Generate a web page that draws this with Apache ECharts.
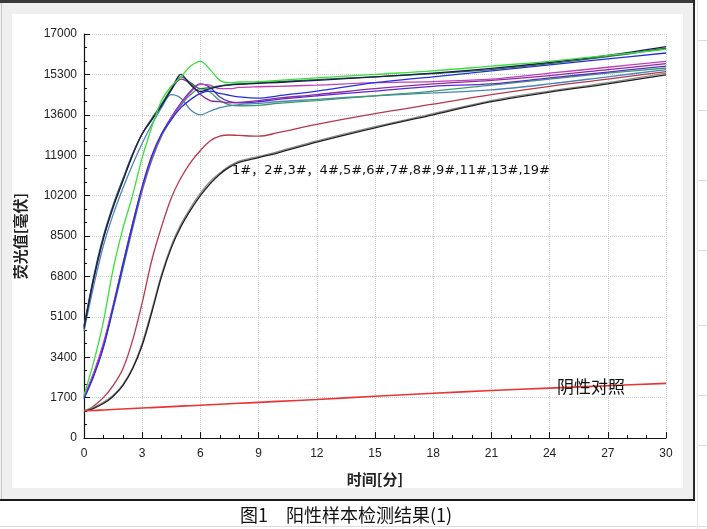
<!DOCTYPE html>
<html>
<head>
<meta charset="utf-8">
<script src="https://cdn.jsdelivr.net/npm/echarts@6/dist/echarts.min.js"></script>
<style>
html,body{margin:0;padding:0;background:#fff;}
#c{width:707px;height:529px;}
</style>
</head>
<body>
<div id="c"></div>
<script>
// ---- data ----
const times = [0,0.5,1,1.5,2,2.5,3,3.5,4,4.5,5,5.5,6,6.5,7,7.5,8,9,10,12,15,18,21,24,27,30];

const navy     = [4600,6700,8400,9700,10800,11900,12800,13400,14000,14650,15300,14850,14580,14700,14800,14850,14880,14920,14960,15050,15200,15350,15550,15800,16100,16470];
const darkGreen= [4700,6800,8500,9800,10900,11950,12800,13450,14050,14700,15200,14950,14700,14750,14820,14870,14900,14950,14990,15080,15200,15330,15500,15750,16050,16400];
const purpleA  = [4700,6700,8400,9750,10850,11900,12800,13400,14000,14650,15100,14900,14450,14200,14150,14100,14120,14200,14300,14450,14700,14900,15050,15250,15500,15750];
const steel    = [4500,6400,8100,9400,10500,11500,12400,13200,13900,14450,14300,13800,13600,13750,13900,13980,14030,14080,14150,14250,14400,14520,14650,14900,15200,15500];
const green    = [1800,3200,4900,7100,8800,10200,11800,13100,14200,14800,15200,15650,15850,15500,15050,14950,14980,15000,15050,15150,15300,15450,15650,15850,16100,16350];
const blue     = [1650,2600,3800,5500,7300,9000,10600,11900,12800,13400,13900,14250,14500,14600,14500,14420,14350,14300,14400,14600,14950,15200,15450,15700,15950,16200];
const violet   = [1700,2700,3900,5500,7200,8900,10500,11800,12800,13500,14100,14600,14900,14750,14350,14150,14100,14150,14250,14400,14600,14800,14900,15150,15400,15650];
const magenta  = [1750,2750,4000,5600,7300,9000,10500,11800,12750,13450,14050,14550,14880,14850,14700,14700,14750,14780,14800,14850,14950,15000,15100,15350,15600,15850];
const seaGreen = [1700,2650,3850,5400,7100,8800,10400,11700,12700,13400,14000,14450,14700,14550,14200,14020,13980,14000,14080,14200,14400,14600,14850,15100,15350,15570];
const darkRed  = [1100,1350,1700,2200,2900,4100,5700,7500,8900,10100,10950,11600,12100,12500,12700,12750,12730,12700,12850,13200,13650,14050,14450,14800,15100,15420];
const black    = [1100,1250,1450,1750,2200,2900,3900,5300,6800,8000,8900,9600,10200,10700,11100,11400,11600,11800,12000,12450,13050,13600,14150,14550,14900,15280];
const gray     = [1150,1300,1500,1800,2250,2950,4000,5400,6900,8100,9000,9700,10300,10800,11150,11450,11650,11850,12050,12500,13100,13650,14200,14600,14950,15350];
const negative = [1150,1160,1180,1200,1220,1240,1260,1280,1300,1320,1340,1360,1380,1400,1420,1440,1460,1500,1540,1620,1760,1880,2000,2100,2200,2300];

const yTicks = [0,1700,3400,5100,6800,8500,10200,11900,13600,15300,17000];
const xTicks = [0,3,6,9,12,15,18,21,24,27,30];

const seriesDefs = [
  ['6#', steel, '#4a86b4'],
  ['13#', seaGreen, '#3c9c6c'],
  ['19#', violet, '#5a2ad0'],
  ['11#', purpleA, '#8a2c9c'],
  ['8#', magenta, '#c040b8'],
  ['9#', blue, '#2430e0'],
  ['5#', darkGreen, '#2a6e48'],
  ['4#', navy, '#1c1c50'],
  ['7#', green, '#38e038'],
  ['3#', darkRed, '#b8384a'],
  ['2#', gray, '#8a8a8a'],
  ['1#', black, '#202020'],
  ['阴性对照', negative, '#e83434']
];

const pair = arr => times.map((t,i)=>[t,arr[i]]);

const chart = echarts.init(document.getElementById('c'), null, {renderer:'canvas'});
const tickFont = {color:'#222', fontSize:12, fontFamily:'Liberation Sans, Arial, sans-serif'};

chart.setOption({
  backgroundColor:'#ffffff',
  animation:false,
  graphic:[
    {type:'rect', z:-100, shape:{x:0,y:0,width:694,height:500}, style:{fill:'#efefef'}},
    {type:'rect', z:-99, shape:{x:12,y:14,width:671,height:474}, style:{fill:'#ffffff'}},
    {type:'rect', z:-98, shape:{x:0,y:0,width:695,height:3}, style:{fill:'#3a3a3a'}},
    {type:'rect', z:-98, shape:{x:693,y:0,width:2,height:501}, style:{fill:'#2a2a2a'}},
    {type:'rect', z:-98, shape:{x:0,y:499,width:695,height:2}, style:{fill:'#1a1a1a'}},
    {type:'rect', z:-98, shape:{x:1,y:3,width:1,height:496}, style:{fill:'#c8c8c8'}},
    {type:'rect', z:-98, shape:{x:0,y:526,width:707,height:1}, style:{fill:'#dcdcdc'}},
    {type:'rect', z:-98, shape:{x:697,y:0,width:1,height:529}, style:{fill:'#e4e4e4'}},
    {type:'rect', z:-98, shape:{x:698,y:40,width:9,height:1}, style:{fill:'#dcdcdc'}},
    {type:'rect', z:-98, shape:{x:698,y:110,width:9,height:1}, style:{fill:'#dcdcdc'}},
    {type:'rect', z:-98, shape:{x:698,y:180,width:9,height:1}, style:{fill:'#dcdcdc'}},
    {type:'rect', z:-98, shape:{x:698,y:250,width:9,height:1}, style:{fill:'#dcdcdc'}},
    {type:'rect', z:-98, shape:{x:698,y:325,width:9,height:1}, style:{fill:'#dcdcdc'}},
    {type:'rect', z:-98, shape:{x:698,y:395,width:9,height:1}, style:{fill:'#dcdcdc'}},
    {type:'rect', z:-98, shape:{x:698,y:445,width:9,height:1}, style:{fill:'#dcdcdc'}},
    {type:'text', left:232, top:164, z:50, style:{text:'1#，2#,3#，4#,5#,6#,7#,8#,9#,11#,13#,19#', fill:'#111', font:'13px "DejaVu Sans", "Noto Sans CJK SC", sans-serif'}},
    {type:'text', left:557, top:378, z:50, style:{text:'阴性对照', fill:'#111', font:'17px "Noto Sans CJK SC", sans-serif'}},
    {type:'text', left:240, top:506, z:50, style:{text:'图1　阳性样本检测结果(1)', fill:'#111', font:'18px "Noto Sans CJK SC", sans-serif'}}
  ],
  grid:{left:84, right:41, top:34, bottom:91, containLabel:false},
  xAxis:{
    type:'value', min:xTicks[0], max:xTicks[xTicks.length-1], interval:3,
    name:'时间[分]', nameLocation:'middle', nameGap:34,
    nameTextStyle:{color:'#222', fontSize:15, fontWeight:'bold', fontFamily:'"Noto Sans CJK SC", sans-serif'},
    axisLine:{lineStyle:{color:'#111', width:1.2}},
    axisTick:{inside:true, length:6, lineStyle:{color:'#111'}},
    minorTick:{show:true, splitNumber:3, length:3, lineStyle:{color:'#111'}},
    axisLabel:Object.assign({margin:10, formatter:v=>String(v)}, tickFont),
    splitLine:{show:true, lineStyle:{color:'#d0d0d0', type:'dotted', width:1}}
  },
  yAxis:{
    type:'value', min:yTicks[0], max:yTicks[yTicks.length-1], interval:1700,
    name:'荧光值[毫伏]', nameLocation:'middle', nameGap:56,
    nameTextStyle:{color:'#222', fontSize:15, fontWeight:'bold', fontFamily:'"Noto Sans CJK SC", sans-serif'},
    axisLine:{show:true, lineStyle:{color:'#111', width:1.2}},
    axisTick:{show:true, inside:true, length:6, lineStyle:{color:'#111'}},
    minorTick:{show:true, splitNumber:3, length:3, lineStyle:{color:'#111'}},
    axisLabel:Object.assign({margin:7, formatter:v=>String(v)}, tickFont),
    splitLine:{show:true, lineStyle:{color:'#d0d0d0', type:'dotted', width:1}}
  },
  series: seriesDefs.map(([name, arr, color]) => ({
    name, type:'line', data:pair(arr), smooth:0.35, showSymbol:false, symbol:'none',
    lineStyle:{color, width: name==='阴性对照' ? 1.6 : 1.3},
    itemStyle:{color}, z:3
  }))
});
</script>
</body>
</html>
